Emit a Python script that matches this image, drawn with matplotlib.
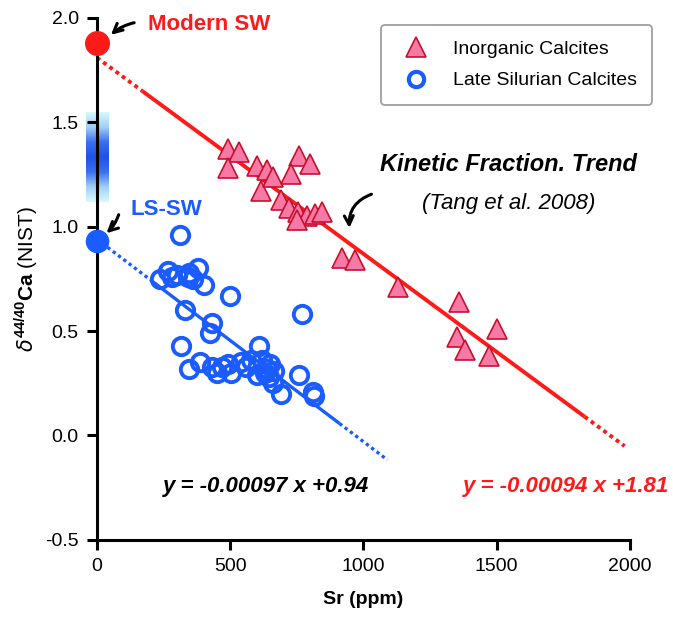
"""Ca isotope fractionation vs Sr content: inorganic vs Late Silurian calcites."""

import matplotlib
matplotlib.use("Agg")

import matplotlib.pyplot as plt
import numpy as np
from matplotlib.colors import LinearSegmentedColormap
from matplotlib.lines import Line2D

plt.rcParams["font.family"] = ["Liberation Sans", "DejaVu Sans"]
plt.rcParams["mathtext.fontset"] = "custom"
plt.rcParams["mathtext.rm"] = "Liberation Sans"
plt.rcParams["mathtext.bf"] = "Liberation Sans:bold"

# ── Data ─────────────────────────────────────────────────────────────────────

# Inorganic calcites (Tang et al. 2008)
ic_sr = [490, 535, 490, 600, 640, 615, 660, 690, 720, 760, 800, 730, 755, 790,
         820, 845, 750, 920, 970, 1130, 1360, 1350, 1380, 1470, 1500]
ic_ca = [1.37, 1.36, 1.28, 1.29, 1.27, 1.17, 1.24, 1.13, 1.09, 1.34, 1.30, 1.25,
         1.07, 1.05, 1.06, 1.07, 1.03, 0.85, 0.84, 0.71, 0.64, 0.47, 0.41, 0.38, 0.51]

# Late Silurian calcites
ls_sr = [310, 265, 235, 280, 300, 345, 360, 380, 400, 340, 500, 330, 430, 425,
         315, 345, 385, 430, 450, 470, 490, 505, 540, 560, 580, 600, 610, 620,
         630, 640, 645, 650, 660, 665, 690, 760, 770, 810, 815]
ls_ca = [0.96, 0.79, 0.75, 0.76, 0.77, 0.78, 0.75, 0.80, 0.72, 0.76, 0.67, 0.60,
         0.54, 0.49, 0.43, 0.32, 0.35, 0.33, 0.30, 0.33, 0.34, 0.30, 0.35, 0.33,
         0.36, 0.29, 0.43, 0.36, 0.30, 0.32, 0.28, 0.34, 0.25, 0.31, 0.20, 0.29,
         0.58, 0.21, 0.19]

# Regression lines: slope, intercept, dotted-solid-dotted breakpoints (ppm)
ic_fit = (-0.00094, 1.81)
ic_breaks = [0, 170, 1830, 1980]
ls_fit = (-0.00097, 0.94)
ls_breaks = [0, 200, 910, 1090]

# Seawater values
modern_sw = 1.88
ls_sw = 0.93
ls_sw_range = (1.12, 1.55)

# ── Figure ───────────────────────────────────────────────────────────────────

RED = "#ff1a1a"
BLUE = "#1a5cff"
PINK = "#f77aa6"
DARKRED = "#c8102e"

fig = plt.figure(figsize=(6.73, 6.19), dpi=100)
ax = fig.add_axes([0.144, 0.128, 0.792, 0.843])
ax.set_xlim(0, 2000)
ax.set_ylim(-0.5, 2.0)


def _draw_fit(fit, breaks, color, lw):
    m, b = fit
    segs = [(breaks[0], breaks[1], (0, (1, 1))), (breaks[1], breaks[2], "-"),
            (breaks[2], breaks[3], (0, (1, 1)))]
    for x0, x1, ls in segs:
        xs = np.array([x0, x1])
        ax.plot(xs, m * xs + b, ls=ls, color=color, lw=lw, zorder=2,
                solid_capstyle="butt", clip_on=False)


_draw_fit(ic_fit, ic_breaks, RED, 2.8)
_draw_fit(ls_fit, ls_breaks, BLUE, 2.4)

ax.plot(ic_sr, ic_ca, "^", ms=14, mfc=PINK, mec=DARKRED, mew=1.2, ls="none", zorder=3)
ax.plot(ls_sr, ls_ca, "o", ms=12.5, mfc="none", mec=BLUE, mew=2.8, ls="none", zorder=3)

# LS-SW estimated range as a gradient bar straddling the y axis
cmap = LinearSegmentedColormap.from_list(
    "bar", ["#d6fafc", "#9fd0f5", "#3a6ff0", "#1f52e6", "#3a6ff0", "#9fd0f5", "#d6fafc"])
grad = np.linspace(0, 1, 200).reshape(-1, 1)
ax.imshow(grad, cmap=cmap, aspect="auto", extent=(-40, 45, *ls_sw_range),
          origin="lower", clip_on=False, zorder=1)

ax.plot([0], [modern_sw], "o", ms=17, color=RED, clip_on=False, zorder=5)
ax.plot([0], [ls_sw], "o", ms=16, color=BLUE, clip_on=False, zorder=5)

arrow = dict(arrowstyle="->", color="black", lw=2.2, mutation_scale=16)
ax.annotate("", xy=(45, 1.91), xytext=(150, 1.98),
            arrowprops=dict(arrow, connectionstyle="arc3,rad=0.15"))
ax.annotate("", xy=(28, 0.96), xytext=(85, 1.07),
            arrowprops=dict(arrow, connectionstyle="arc3,rad=-0.15"))
ax.annotate("", xy=(948, 0.98), xytext=(1040, 1.16),
            arrowprops=dict(arrow, connectionstyle="arc3,rad=0.4"))

ax.text(190, 1.97, "Modern SW", color=RED, fontsize=16, fontweight="bold", va="center")
ax.text(125, 1.08, "LS-SW", color=BLUE, fontsize=16, fontweight="bold", va="center")
ax.text(1545, 1.30, "Kinetic Fraction. Trend", fontsize=17, fontweight="bold",
        fontstyle="italic", ha="center", va="center")
ax.text(1545, 1.11, "(Tang et al. 2008)", fontsize=16, fontstyle="italic",
        ha="center", va="center")
ax.text(635, -0.245, "y = -0.00097 x +0.94", fontsize=16, fontweight="bold",
        fontstyle="italic", ha="center", va="center")
ax.text(1760, -0.245, "y = -0.00094 x +1.81", fontsize=16, fontweight="bold",
        fontstyle="italic", ha="center", va="center", color=RED, clip_on=False)

# Axes styling
for side in ("top", "right"):
    ax.spines[side].set_visible(False)
for side in ("left", "bottom"):
    ax.spines[side].set_linewidth(2.2)
ax.set_xticks([0, 500, 1000, 1500, 2000])
ax.set_yticks([-0.5, 0.0, 0.5, 1.0, 1.5, 2.0])
ax.set_yticklabels(["-0.5", "0.0", "0.5", "1.0", "1.5", "2.0"])
ax.tick_params(direction="out", length=7, width=2.2, labelsize=14, pad=6)
ax.set_xlabel("Sr (ppm)", fontsize=14, fontweight="bold", labelpad=12)
ax.set_ylabel(r"$\delta^{\mathbf{44/40}}\mathbf{Ca}$ (NIST)", fontsize=15, labelpad=4)

handles = [
    Line2D([], [], marker="^", ms=15, mfc=PINK, mec=DARKRED, mew=1.2, ls="none"),
    Line2D([], [], marker="o", ms=11, mfc="none", mec=BLUE, mew=3, ls="none"),
]
leg = ax.legend(handles, ["Inorganic Calcites", "Late Silurian Calcites"],
                loc="upper right", bbox_to_anchor=(1.06, 1.005), fontsize=14,
                frameon=True, fancybox=True, edgecolor="#888888",
                borderpad=0.8, labelspacing=0.7, handletextpad=0.9)
leg.get_frame().set_linewidth(1.3)

fig.savefig("out.png", dpi=100)
